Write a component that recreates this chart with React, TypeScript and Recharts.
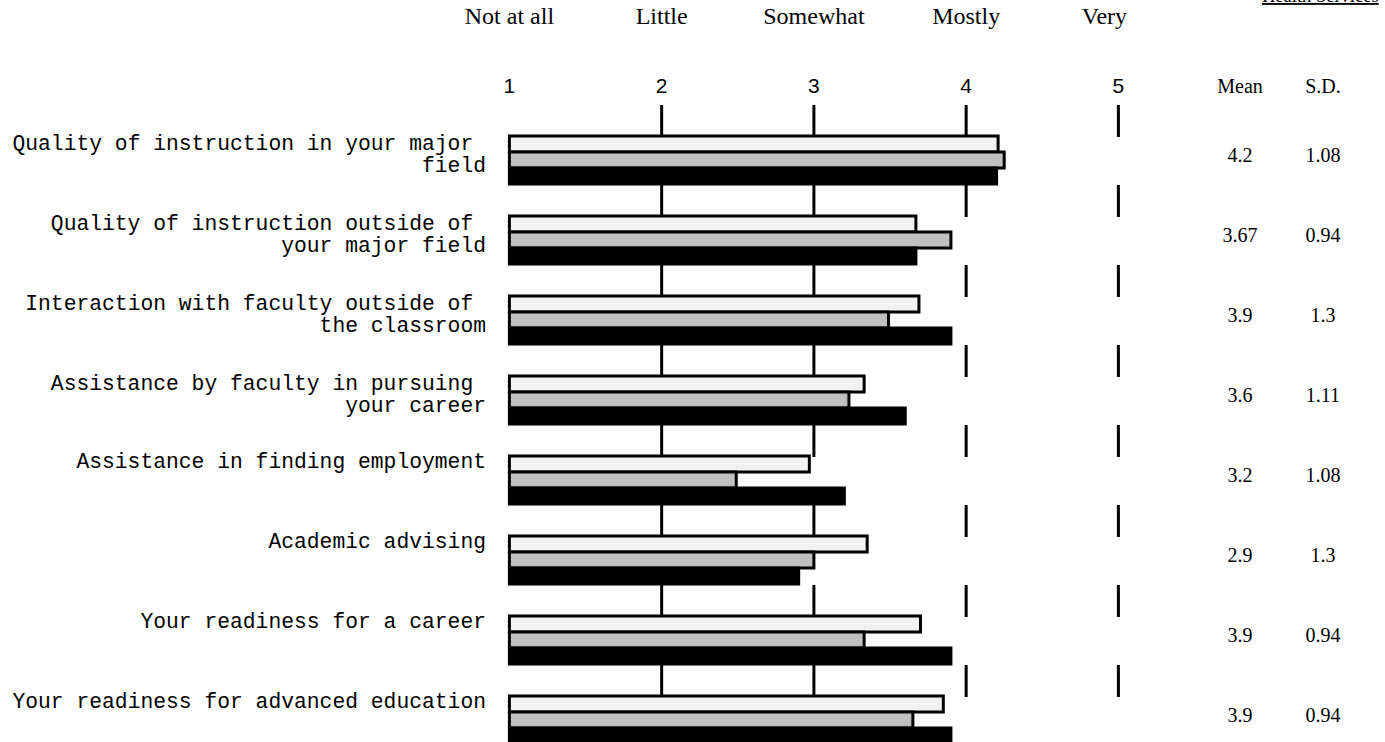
import React from 'react';
import { BarChart, Bar, XAxis, YAxis, CartesianGrid } from 'recharts';

const categoryLines: string[][] = [
  ['Quality of instruction in your major\u00a0', 'field'],
  ['Quality of instruction outside of\u00a0', 'your major field'],
  ['Interaction with faculty outside of\u00a0', 'the classroom'],
  ['Assistance by faculty in pursuing\u00a0', 'your career'],
  ['Assistance in finding employment'],
  ['Academic advising'],
  ['Your readiness for a career'],
  ['Your readiness for advanced education'],
];
const categories = categoryLines.map((l) => l.join(' ').replace(/\u00a0/g, '').trim());

const lightValues = [4.21, 3.67, 3.69, 3.33, 2.97, 3.35, 3.7, 3.85];
const grayValues = [4.25, 3.9, 3.49, 3.23, 2.49, 3.0, 3.33, 3.65];
const meanValues = [4.2, 3.67, 3.9, 3.6, 3.2, 2.9, 3.9, 3.9];
const sdValues = [1.08, 0.94, 1.3, 1.11, 1.08, 1.3, 0.94, 0.94];

const scaleTicks = [1, 2, 3, 4, 5];
const scaleWords = ['Not at all', 'Little', 'Somewhat', 'Mostly', 'Very'];
const gridValues = [2, 3, 4, 5];
const groupTitle = 'Health Services';
const meanHeader = 'Mean';
const sdHeader = 'S.D.';

const data = categories.map((c, i) => ({
  name: c,
  light: lightValues[i],
  gray: grayValues[i],
  mean: meanValues[i],
}));

const SERIF = "'Liberation Serif', 'Times New Roman', serif";
const SANS = "'Liberation Sans', Arial, sans-serif";
const MONO = "'Liberation Mono', 'Courier New', monospace";

const MEAN_X = 1240;
const SD_X = 1323;

const XTick = (props: any) => {
  const { x, y, payload } = props;
  const idx = scaleTicks.indexOf(payload.value);
  const nudge = idx === scaleTicks.length - 1 ? -14 : 0;
  return (
    <g>
      <text x={x + nudge} y={y - 81} textAnchor="middle" fontFamily={SERIF} fontSize={24} fill="#000">
        {scaleWords[idx]}
      </text>
      <text x={x} y={y - 12} textAnchor="middle" fontFamily={SANS} fontSize={21} fill="#000">
        {String(payload.value)}
      </text>
    </g>
  );
};

const YTick = (props: any) => {
  const { y, payload } = props;
  let idx = categories.indexOf(payload.value);
  if (idx < 0) idx = props.index ?? 0;
  const lines = categoryLines[idx];
  const first = lines.length > 1 ? y - 10 : y - 12;
  return (
    <g>
      {lines.map((ln, k) => (
        <text
          key={k}
          x={486}
          y={first + k * 22}
          textAnchor="end"
          fontFamily={MONO}
          fontSize={21.33}
          fill="#000"
          style={{ whiteSpace: 'pre' }}
        >
          {ln}
        </text>
      ))}
      <text x={MEAN_X} y={y + 2} textAnchor="middle" fontFamily={SERIF} fontSize={20} fill="#000">
        {String(meanValues[idx])}
      </text>
      <text x={SD_X} y={y + 2} textAnchor="middle" fontFamily={SERIF} fontSize={20} fill="#000">
        {String(sdValues[idx])}
      </text>
    </g>
  );
};

export default function App() {
  return (
    <div
      style={{
        position: 'absolute',
        left: 0,
        top: 0,
        width: 1385,
        height: 742,
        overflow: 'hidden',
        background: '#fff',
      }}
    >
      <BarChart
        width={1385}
        height={770}
        data={data}
        layout="vertical"
        margin={{ top: 75, right: 266.6, left: 0, bottom: 10 }}
        barGap={0}
        barCategoryGap={16}
      >
        <CartesianGrid
          horizontal={false}
          vertical
          verticalValues={gridValues}
          stroke="#000"
          strokeWidth={3}
          strokeDasharray="32 48"
        />
        <XAxis
          type="number"
          orientation="top"
          domain={[1, 5]}
          ticks={scaleTicks}
          height={30}
          axisLine={false}
          tickLine={false}
          tickSize={0}
          tickMargin={0}
          tick={<XTick />}
          interval={0}
        />
        <YAxis
          type="category"
          dataKey="name"
          width={509.4}
          padding={{ top: 15, bottom: 0 }}
          axisLine={false}
          tickLine={false}
          tick={<YTick />}
          interval={0}
        />
        <Bar dataKey="light" fill="#f2f2f2" stroke="#000" strokeWidth={3} isAnimationActive={false} />
        <Bar dataKey="gray" fill="#c0c0c0" stroke="#000" strokeWidth={3} isAnimationActive={false} />
        <Bar dataKey="mean" fill="#000" stroke="#000" strokeWidth={3} isAnimationActive={false} />
      </BarChart>
      <svg
        width={1385}
        height={742}
        style={{ position: 'absolute', left: 0, top: 0, pointerEvents: 'none' }}
      >
        <text
          x={1262}
          y={2}
          fontFamily={SERIF}
          fontSize={18.5}
          fill="#000"
          style={{ textDecoration: 'underline' }}
        >
          {groupTitle}
        </text>
        <text x={MEAN_X} y={93} textAnchor="middle" fontFamily={SERIF} fontSize={20} fill="#000">
          {meanHeader}
        </text>
        <text x={SD_X} y={93} textAnchor="middle" fontFamily={SERIF} fontSize={20} fill="#000">
          {sdHeader}
        </text>
      </svg>
    </div>
  );
}
